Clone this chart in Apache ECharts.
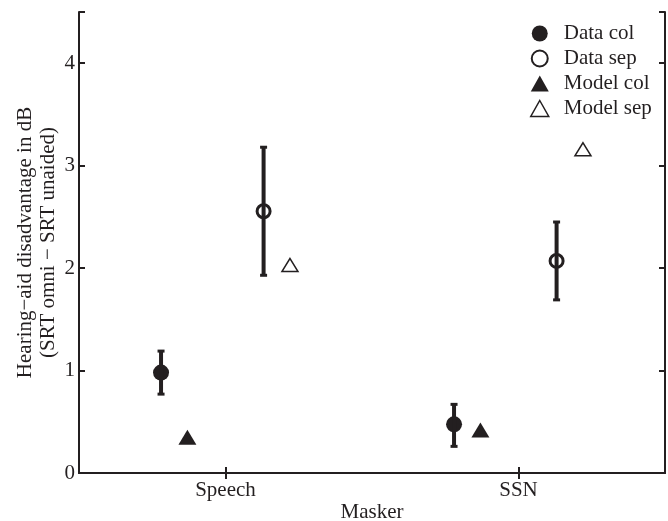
<!DOCTYPE html>
<html>
<head>
<meta charset="utf-8">
<script src="https://cdn.jsdelivr.net/npm/echarts@6/dist/echarts.min.js"></script>
<style>html,body{margin:0;padding:0;background:#fff}#c{width:668px;height:521px}</style>
</head>
<body>
<div id="c"></div>
<script>
const categories = ['Speech', 'SSN'];
const yTicks = [0, 1, 2, 3, 4];
const dataCol = [0.98, 0.475];
const dataColLow = [0.77, 0.26];
const dataColHigh = [1.19, 0.67];
const dataSep = [2.555, 2.07];
const dataSepLow = [1.93, 1.69];
const dataSepHigh = [3.18, 2.45];
const modelCol = [0.35, 0.42];
const modelSep = [2.03, 3.16];
const seriesNames = ['Data col', 'Data sep', 'Model col', 'Model sep'];

// horizontal offsets of each series within a category (layout)
const OFF = { dataCol: -0.22, modelCol: -0.13, dataSep: 0.13, modelSep: 0.22 };
const INK = '#231f20';
const FONT = 'Liberation Serif';

function pts(vals, off) { return vals.map((v, i) => [i + 1 + off, v]); }
function errPts(lo, hi, off) { return lo.map((l, i) => [i + 1 + off, l, hi[i]]); }

function renderErr(params, api) {
  const x = api.value(0);
  const pLo = api.coord([x, api.value(1)]);
  const pHi = api.coord([x, api.value(2)]);
  return {
    type: 'group',
    children: [
      { type: 'line', shape: { x1: pHi[0], y1: pHi[1], x2: pLo[0], y2: pLo[1] }, style: { stroke: INK, lineWidth: 4 } },
      { type: 'rect', shape: { x: pHi[0] - 3.5, y: pHi[1] - 1.5, width: 7, height: 3 }, style: { fill: INK } },
      { type: 'rect', shape: { x: pLo[0] - 3.5, y: pLo[1] - 1.5, width: 7, height: 3 }, style: { fill: INK } }
    ]
  };
}

const chart = echarts.init(document.getElementById('c'), null, { renderer: 'canvas' });
const axisLine = { show: true, lineStyle: { color: INK, width: 2 } };
const tick = { show: true, inside: true, length: 6, lineStyle: { color: INK, width: 2 } };

chart.setOption({
  animation: false,
  backgroundColor: '#fff',
  textStyle: { fontFamily: FONT, color: INK },
  grid: { left: 79, right: 3, top: 12, bottom: 48, containLabel: false, outerBoundsMode: 'none' },
  legend: {
    orient: 'vertical',
    left: 525,
    top: 18,
    itemWidth: 18,
    itemHeight: 16,
    itemGap: 4,
    textStyle: { fontFamily: FONT, fontSize: 21, color: INK, padding: [0, 0, 0, 10] },
    data: [
      { name: 'Data col', icon: 'circle', itemStyle: { color: INK, borderWidth: 0 } },
      { name: 'Data sep', icon: 'circle', itemStyle: { color: '#fff', borderColor: INK, borderWidth: 2 } },
      { name: 'Model col', icon: 'triangle', itemStyle: { color: INK, borderWidth: 0 } },
      { name: 'Model sep', icon: 'triangle', itemStyle: { color: '#fff', borderColor: INK, borderWidth: 1.5 } }
    ]
  },
  xAxis: [
    {
      type: 'category', data: categories, position: 'bottom', boundaryGap: true,
      axisLine: axisLine, axisTick: Object.assign({ alignWithLabel: true }, tick),
      axisLabel: { fontFamily: FONT, fontSize: 21, color: INK, margin: 7 },
      splitLine: { show: false },
      name: 'Masker', nameLocation: 'middle', nameGap: 29, nameMoveOverlap: false,
      nameTextStyle: { fontFamily: FONT, fontSize: 21, color: INK }
    },
    {
      type: 'category', data: categories, position: 'top', boundaryGap: true,
      axisLine: axisLine, axisTick: Object.assign({ alignWithLabel: true }, tick),
      axisLabel: { show: false }, splitLine: { show: false }
    },
    { type: 'value', min: 0.5, max: 2.5, show: false, splitLine: { show: false } }
  ],
  yAxis: [
    {
      type: 'value', min: 0, max: 4.5, interval: 1, position: 'left',
      axisLine: axisLine, axisTick: tick, splitLine: { show: false },
      axisLabel: {
        fontFamily: FONT, fontSize: 21, color: INK, margin: 4,
        formatter: v => (yTicks.indexOf(v) >= 0 ? String(v) : '')
      },
      name: 'Hearing\u2212aid disadvantage in dB\n(SRT omni \u2212 SRT unaided)',
      nameLocation: 'middle', nameGap: 19, nameRotate: 90, nameMoveOverlap: false,
      nameTextStyle: { fontFamily: FONT, fontSize: 21, color: INK, lineHeight: 23 }
    },
    {
      type: 'value', min: 0, max: 4.5, interval: 1, position: 'right',
      axisLine: axisLine, axisTick: tick, splitLine: { show: false },
      axisLabel: { show: false }
    }
  ],
  series: [
    {
      name: 'Data col', type: 'scatter', xAxisIndex: 2, yAxisIndex: 0,
      symbol: 'circle', symbolSize: 16, itemStyle: { color: INK, opacity: 1 },
      data: pts(dataCol, OFF.dataCol), z: 2
    },
    {
      name: 'Data sep', type: 'scatter', xAxisIndex: 2, yAxisIndex: 0,
      symbol: 'circle', symbolSize: 13, itemStyle: { color: 'rgba(255,255,255,0)', borderColor: INK, borderWidth: 3, opacity: 1 },
      data: pts(dataSep, OFF.dataSep), z: 2
    },
    {
      name: 'Model col', type: 'scatter', xAxisIndex: 2, yAxisIndex: 0,
      symbol: 'triangle', symbolSize: [18, 15], itemStyle: { color: INK, opacity: 1 },
      data: pts(modelCol, OFF.modelCol), z: 2
    },
    {
      name: 'Model sep', type: 'scatter', xAxisIndex: 2, yAxisIndex: 0,
      symbol: 'triangle', symbolSize: [16, 13], itemStyle: { color: '#fff', borderColor: INK, borderWidth: 1.5, opacity: 1 },
      data: pts(modelSep, OFF.modelSep), z: 2
    },
    {
      name: 'errCol', type: 'custom', xAxisIndex: 2, yAxisIndex: 0,
      renderItem: renderErr, data: errPts(dataColLow, dataColHigh, OFF.dataCol), z: 3, silent: true
    },
    {
      name: 'errSep', type: 'custom', xAxisIndex: 2, yAxisIndex: 0,
      renderItem: renderErr, data: errPts(dataSepLow, dataSepHigh, OFF.dataSep), z: 3, silent: true
    }
  ]
});
</script>
</body>
</html>
